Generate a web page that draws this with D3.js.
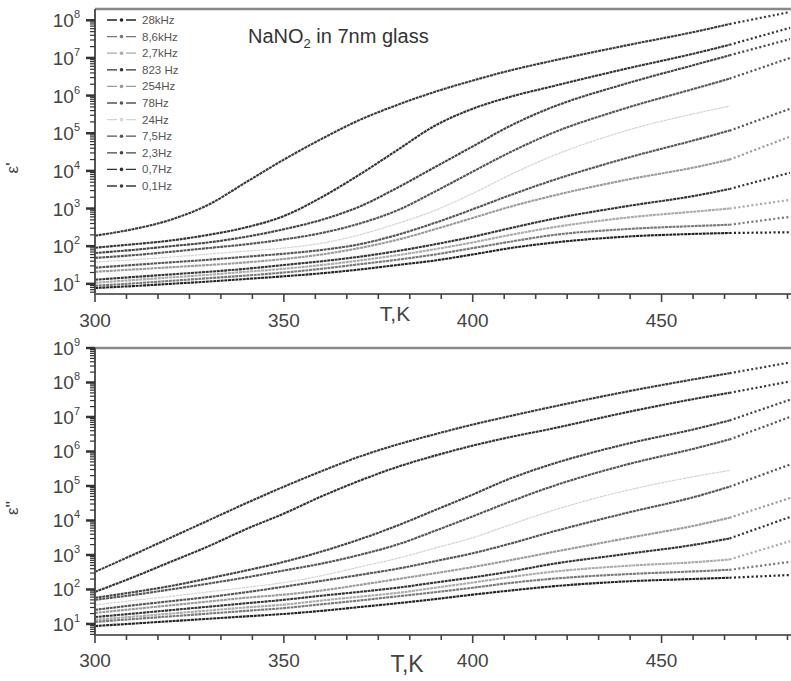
<!DOCTYPE html>
<html>
<head>
    <title>NaNO2 in 7nm glass</title>
    <script src="https://d3js.org/d3.v7.min.js"></script>
    <style>
        body { margin: 0; background: #fff; }
        text { font-family: "Liberation Sans", Arial, sans-serif; }
    </style>
</head>
<body>
<svg width="791" height="681"></svg>
<script>
    var temps = [300, 310, 320, 330, 340, 350, 360, 370, 380, 390, 400, 410, 420, 440, 460, 468, 484];

    var freqs = ["0,1Hz", "0,7Hz", "2,3Hz", "7,5Hz", "24Hz", "78Hz", "254Hz", "823 Hz", "2,7kHz", "8,6kHz", "28kHz"];
    var legendOrder = ["28kHz", "8,6kHz", "2,7kHz", "823 Hz", "254Hz", "78Hz", "24Hz", "7,5Hz", "2,3Hz", "0,7Hz", "0,1Hz"];
    var colors = ["#3a3a3a", "#333", "#444", "#555", "#d4d4d4", "#555", "#9a9a9a", "#333", "#aaa", "#777", "#222"];

    // log10 of eps' per frequency (same order as freqs)
    var epsRealLog = [
        [2.28, 2.45, 2.7, 3.1, 3.7, 4.3, 4.85, 5.35, 5.75, 6.1, 6.4, 6.67, 6.9, 7.32, 7.72, 7.9, 8.22],
        [1.96, 2.05, 2.15, 2.3, 2.5, 2.8, 3.3, 3.9, 4.55, 5.2, 5.65, 5.97, 6.22, 6.7, 7.15, 7.35, 7.8],
        [1.82, 1.9, 2.0, 2.1, 2.25, 2.45, 2.7, 3.05, 3.55, 4.1, 4.65, 5.2, 5.65, 6.3, 6.85, 7.07, 7.5],
        [1.69, 1.76, 1.85, 1.95, 2.05, 2.18, 2.35, 2.6, 2.95, 3.45, 3.98, 4.5, 4.96, 5.65, 6.22, 6.45, 7.0],
        [1.58, 1.64, 1.71, 1.79, 1.87, 1.95, 2.08, 2.3, 2.6, 2.95, 3.4, 3.9, 4.35, 5.05, 5.55, 5.72, null],
        [1.43, 1.5, 1.57, 1.64, 1.72, 1.8, 1.9, 2.05, 2.3, 2.62, 2.98, 3.36, 3.71, 4.32, 4.85, 5.07, 5.65],
        [1.32, 1.38, 1.44, 1.5, 1.57, 1.66, 1.78, 1.95, 2.17, 2.45, 2.75, 3.05, 3.31, 3.75, 4.12, 4.3, 4.91],
        [1.11, 1.18, 1.25, 1.32, 1.4, 1.5, 1.6, 1.72, 1.87, 2.05, 2.25, 2.48, 2.7, 3.05, 3.36, 3.52, 3.95],
        [1.03, 1.1, 1.17, 1.24, 1.32, 1.4, 1.5, 1.62, 1.76, 1.92, 2.1, 2.3, 2.48, 2.75, 2.93, 3.0, 3.23],
        [0.95, 1.01, 1.08, 1.15, 1.22, 1.3, 1.4, 1.52, 1.64, 1.78, 1.95, 2.12, 2.28, 2.45, 2.54, 2.57, 2.78],
        [0.89, 0.94, 1.0, 1.06, 1.13, 1.2, 1.28, 1.38, 1.5, 1.62, 1.78, 1.95, 2.08, 2.25, 2.33, 2.35, 2.37]
    ];

    // log10 of eps''
    var epsImagLog = [
        [2.51, 3.0, 3.5, 4.0, 4.5, 4.98, 5.43, 5.85, 6.2, 6.5, 6.78, 7.03, 7.27, 7.72, 8.12, 8.27, 8.58],
        [1.93, 2.35, 2.8, 3.25, 3.75, 4.2, 4.7, 5.15, 5.55, 5.88, 6.17, 6.42, 6.64, 7.12, 7.55, 7.7, 8.03],
        [1.76, 1.92, 2.1, 2.32, 2.55, 2.8, 3.1, 3.45, 3.85, 4.3, 4.75, 5.22, 5.6, 6.2, 6.68, 6.9, 7.5],
        [1.70, 1.84, 2.0, 2.17, 2.35, 2.55, 2.75, 3.0, 3.3, 3.7, 4.12, 4.55, 4.95, 5.6, 6.12, 6.35, 7.0],
        [1.55, 1.68, 1.8, 1.93, 2.06, 2.2, 2.4, 2.65, 2.9, 3.2, 3.5, 3.88, 4.25, 4.85, 5.3, 5.45, null],
        [1.41, 1.54, 1.66, 1.78, 1.92, 2.08, 2.25, 2.42, 2.6, 2.82, 3.05, 3.33, 3.64, 4.2, 4.72, 4.98, 5.62],
        [1.32, 1.43, 1.54, 1.65, 1.76, 1.85, 1.97, 2.13, 2.3, 2.47, 2.65, 2.85, 3.06, 3.47, 3.88, 4.08, 4.65],
        [1.2, 1.3, 1.4, 1.5, 1.6, 1.7, 1.82, 1.93, 2.05, 2.2, 2.35, 2.52, 2.72, 3.02, 3.32, 3.48, 4.1],
        [1.12, 1.21, 1.3, 1.39, 1.48, 1.56, 1.68, 1.79, 1.9, 2.05, 2.2, 2.36, 2.5, 2.68, 2.8, 2.87, 3.4],
        [1.06, 1.14, 1.22, 1.3, 1.38, 1.46, 1.57, 1.68, 1.8, 1.92, 2.05, 2.19, 2.3, 2.44, 2.53, 2.57, 2.8],
        [0.94, 1.01, 1.08, 1.15, 1.22, 1.29, 1.38, 1.49, 1.6, 1.72, 1.85, 1.97, 2.08, 2.23, 2.31, 2.34, 2.42]
    ];

    var xTicks = [300, 350, 400, 450];
    var tailStart = 468;   // beyond this the points are sparse

    var svg = d3.select("svg");
    svg.append("rect").attr("width", 791).attr("height", 681).attr("fill", "#fff");

    var x = d3.scaleLinear().domain([300, 484]).range([95, 790]);

    var panels = [
        {data: epsRealLog, top: 9, bottom: 294, lo: 0.73, hi: 8.3, decades: d3.range(1, 9),
         ytitle: "ε'", ytitleY: 168, tickY: 327, tk: {x: 395, y: 321, size: 21}},
        {data: epsImagLog, top: 348, bottom: 635, lo: 0.68, hi: 9, decades: d3.range(1, 10),
         ytitle: "ε''", ytitleY: 508, tickY: 667, tk: {x: 407, y: 672, size: 23}}
    ];

    panels.forEach(function (p, pi) {
        var y = d3.scaleLog().domain([Math.pow(10, p.lo), Math.pow(10, p.hi)]).range([p.bottom, p.top]);
        var g = svg.append("g");

        var clipId = "clip" + pi;
        g.append("clipPath").attr("id", clipId).append("rect")
            .attr("x", 95).attr("y", p.top).attr("width", 700).attr("height", p.bottom - p.top);

        // curves
        var line = d3.line()
            .defined(function (d) { return d.v != null; })
            .x(function (d) { return x(d.t); })
            .y(function (d) { return y(Math.pow(10, d.v)); })
            .curve(d3.curveMonotoneX);

        var curves = g.append("g").attr("clip-path", "url(#" + clipId + ")");
        p.data.forEach(function (vals, i) {
            var pts = temps.map(function (t, k) { return {t: t, v: vals[k]}; });
            var head = pts.filter(function (d) { return d.t <= tailStart; });
            var tail = pts.filter(function (d) { return d.t >= tailStart && d.v != null; });
            var w = i === 4 ? 1.2 : 2.1;
            curves.append("path").attr("d", line(head))
                .attr("fill", "none").attr("stroke", colors[i])
                .attr("stroke-width", w).attr("stroke-dasharray", "3,0.7");
            if (tail.length > 1) {
                curves.append("path").attr("d", line(tail))
                    .attr("fill", "none").attr("stroke", colors[i])
                    .attr("stroke-width", 2.2).attr("stroke-dasharray", "2,2.4");
            }
        });

        // frame: top border, left axis, bottom axis
        g.append("line").attr("x1", 95).attr("x2", 791).attr("y1", p.top).attr("y2", p.top)
            .attr("stroke", "#888").attr("stroke-width", 2.5);
        g.append("line").attr("x1", 95).attr("x2", 95).attr("y1", p.top).attr("y2", p.bottom)
            .attr("stroke", "#555").attr("stroke-width", 2);
        g.append("line").attr("x1", 94).attr("x2", 791).attr("y1", p.bottom).attr("y2", p.bottom)
            .attr("stroke", "#666").attr("stroke-width", 2);

        // x ticks (5 minor ticks between majors)
        var xt = d3.range(0, 23).map(function (k) { return 300 + k * 50 / 6; }).filter(function (t) { return t <= 484.5; });
        g.selectAll(".xt").data(xt).enter().append("line")
            .attr("x1", function (d) { return x(d); }).attr("x2", function (d) { return x(d); })
            .attr("y1", p.bottom)
            .attr("y2", function (d, k) { return p.bottom + (k % 6 === 0 ? 8 : 5); })
            .attr("stroke", "#444").attr("stroke-width", 1.6);
        g.selectAll(".xl").data(xTicks).enter().append("text")
            .attr("x", function (d) { return x(d); }).attr("y", p.tickY)
            .attr("text-anchor", "middle").attr("font-size", 19).attr("fill", "#444")
            .text(function (d) { return d; });
        g.append("text").attr("x", p.tk.x).attr("y", p.tk.y).attr("text-anchor", "middle")
            .attr("font-size", p.tk.size).attr("fill", "#444").text("T,K");

        // y ticks: majors at decades, minors 2..9
        var minors = [];
        for (var e = 0; e <= 9; e++) {
            for (var m = 2; m <= 9; m++) {
                var v = m * Math.pow(10, e);
                if (Math.log10(v) > p.lo && Math.log10(v) < p.hi) minors.push(v);
            }
        }
        g.selectAll(".ym").data(minors).enter().append("line")
            .attr("x1", 90).attr("x2", 95)
            .attr("y1", function (d) { return y(d); }).attr("y2", function (d) { return y(d); })
            .attr("stroke", "#333").attr("stroke-width", 1.2);
        g.selectAll(".yM").data(p.decades).enter().append("line")
            .attr("x1", 86).attr("x2", 95)
            .attr("y1", function (d) { return y(Math.pow(10, d)); })
            .attr("y2", function (d) { return y(Math.pow(10, d)); })
            .attr("stroke", "#333").attr("stroke-width", 2.5);
        var yl = g.selectAll(".yl").data(p.decades).enter().append("text")
            .attr("x", 80).attr("y", function (d) { return y(Math.pow(10, d)) + 7; })
            .attr("text-anchor", "end").attr("font-size", 19).attr("fill", "#444");
        yl.append("tspan").text("10");
        yl.append("tspan").attr("font-size", 11).attr("dy", -9).text(function (d) { return d; });

        // y title
        g.append("text").attr("transform", "translate(18," + p.ytitleY + ") rotate(-90)")
            .attr("text-anchor", "middle").attr("font-size", 17).attr("fill", "#444")
            .text(p.ytitle);
    });

    // title
    var title = svg.append("text").attr("x", 248).attr("y", 43).attr("font-size", 20).attr("fill", "#333");
    title.append("tspan").text("NaNO");
    title.append("tspan").attr("font-size", 13).attr("dy", 5).text("2");
    title.append("tspan").attr("dy", -5).text(" in 7nm glass");

    // legend: dash - dot - dash samples
    var leg = svg.append("g");
    legendOrder.forEach(function (name, k) {
        var i = freqs.indexOf(name);
        var ly = 20 + k * 16.6;
        leg.append("line").attr("x1", 107).attr("x2", 136).attr("y1", ly).attr("y2", ly)
            .attr("stroke", colors[i]).attr("stroke-width", 1.3).attr("stroke-dasharray", "10,9");
        leg.append("circle").attr("cx", 121.5).attr("cy", ly).attr("r", 1.8).attr("fill", colors[i]);
        leg.append("text").attr("x", 142).attr("y", ly + 4).attr("font-size", 11.5).attr("fill", "#555")
            .text(name);
    });
</script>
</body>
</html>
